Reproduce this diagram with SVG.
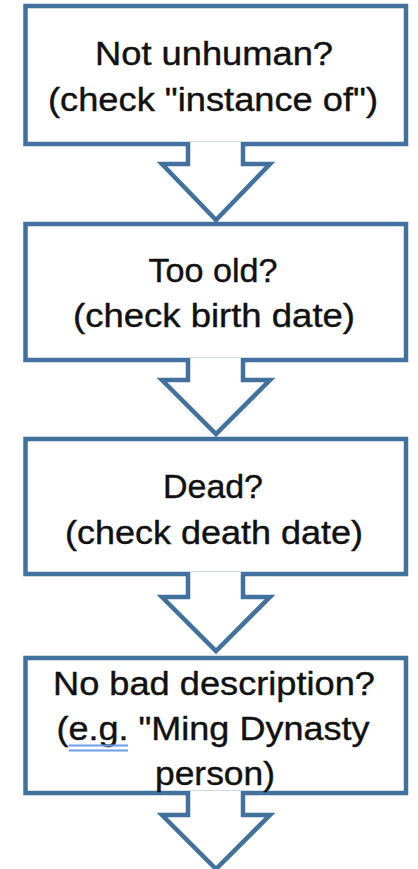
<svg xmlns="http://www.w3.org/2000/svg" width="418" height="869" viewBox="0 0 418 869">
  <style>
    .box { fill: #ffffff; stroke: #41719c; stroke-width: 4.5; }
    .arrow { fill: #ffffff; stroke: #41719c; stroke-width: 4.5; stroke-linejoin: miter; }
    .label { font-family: "Liberation Sans", Arial, sans-serif; font-size: 33px; fill: #111111; stroke: #111111; stroke-width: 0.4; text-anchor: middle; }
    .spell { stroke: #6f9be8; stroke-width: 2; }
  </style>
  <rect width="418" height="869" fill="#ffffff"/>

  <g id="node-unhuman">
    <rect class="box" x="25.5" y="6" width="380.5" height="138"/>
    <text class="label" x="214" y="65" textLength="238" lengthAdjust="spacingAndGlyphs">Not unhuman?</text>
    <text class="label" x="213" y="111" textLength="330" lengthAdjust="spacingAndGlyphs">(check "instance of")</text>
  </g>

  <g id="node-too-old">
    <rect class="box" x="25.5" y="224" width="380.5" height="136"/>
    <text class="label" x="213" y="282" textLength="129" lengthAdjust="spacingAndGlyphs">Too old?</text>
    <text class="label" x="214" y="327" textLength="282" lengthAdjust="spacingAndGlyphs">(check birth date)</text>
  </g>

  <g id="node-dead">
    <rect class="box" x="25.5" y="439" width="380.5" height="135"/>
    <text class="label" x="213" y="498" textLength="100" lengthAdjust="spacingAndGlyphs">Dead?</text>
    <text class="label" x="214" y="544" textLength="298" lengthAdjust="spacingAndGlyphs">(check death date)</text>
  </g>

  <g id="node-description">
    <rect class="box" x="25.5" y="658" width="380.5" height="135"/>
    <text class="label" x="214" y="695" textLength="322" lengthAdjust="spacingAndGlyphs">No bad description?</text>
    <text class="label" x="213" y="740" textLength="313" lengthAdjust="spacingAndGlyphs">(e.g. "Ming Dynasty</text>
    <line class="spell" x1="69" y1="745.5" x2="128" y2="745.5"/>
    <line class="spell" x1="69" y1="750.5" x2="128" y2="750.5"/>
    <text class="label" x="215" y="785" textLength="120" lengthAdjust="spacingAndGlyphs">person)</text>
  </g>

  <g id="connectors">
    <path class="arrow" d="M188,142 V164 H162 L216,220 L270,164 H243 V142"/>
    <path class="arrow" d="M188,358 V380 H162 L216,434 L270,380 H243 V358"/>
    <path class="arrow" d="M188,572 V597 H162 L216,651 L270,597 H243 V572"/>
    <path class="arrow" d="M188,791 V815 H162 L216,869 L270,815 H243 V791"/>
  </g>
</svg>
